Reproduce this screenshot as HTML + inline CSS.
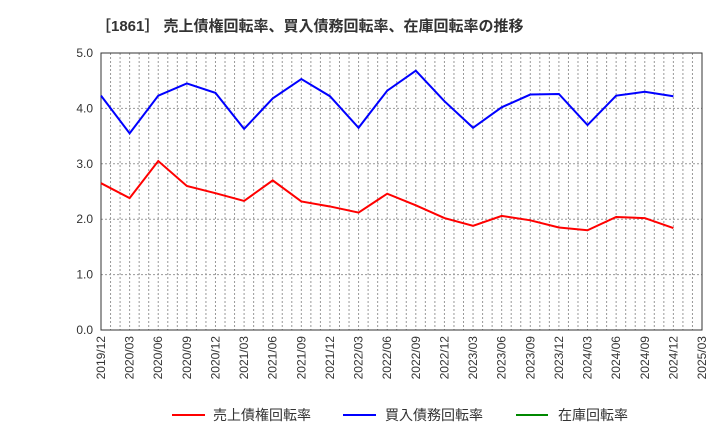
<!DOCTYPE html>
<html><head><meta charset="utf-8">
<style>
body{margin:0;background:#fff;font-family:"Liberation Sans","Noto Sans CJK JP",sans-serif;}
svg text{font-family:"Liberation Sans","Noto Sans CJK JP",sans-serif;}
</style></head><body>
<svg width="720" height="440">
<text x="96" y="31" font-size="15" font-weight="bold" fill="#333">［1861］ 売上債権回転率、買入債務回転率、在庫回転率の推移</text>
<g id="grid"></g>
<g id="axes"></g>
<g id="series"></g>
<g>
<g><line x1="172" y1="415" x2="205" y2="415" stroke="#f00" stroke-width="2"/><text x="213" y="420" font-size="14" fill="#333">売上債権回転率</text></g>
<g><line x1="343" y1="415" x2="376" y2="415" stroke="#00f" stroke-width="2"/><text x="385" y="420" font-size="14" fill="#333">買入債務回転率</text></g>
<g><line x1="516" y1="415" x2="548" y2="415" stroke="#080" stroke-width="2"/><text x="558" y="420" font-size="14" fill="#333">在庫回転率</text></g>
</g>
</svg>
<script>
const labels=["2019/12","2020/03","2020/06","2020/09","2020/12","2021/03","2021/06","2021/09","2021/12","2022/03","2022/06","2022/09","2022/12","2023/03","2023/06","2023/09","2023/12","2024/03","2024/06","2024/09","2024/12","2025/03"];
const payables=[4.23,3.55,4.23,4.45,4.28,3.63,4.18,4.53,4.22,3.65,4.32,4.68,4.13,3.65,4.02,4.25,4.26,3.70,4.23,4.30,4.22];
const receivables=[2.65,2.38,3.05,2.60,2.47,2.33,2.70,2.32,2.23,2.12,2.46,2.25,2.02,1.88,2.06,1.98,1.85,1.80,2.04,2.02,1.84];
const yTicks=[0,1,2,3,4,5];
const L=101,R=702,T=53,B=330,ymax=5;
const months=(labels.length-1)*3;
const xm=m=>L+(R-L)*m/months;
const xq=i=>xm(i*3);
const y=v=>B-(B-T)*v/ymax;
const NS="http://www.w3.org/2000/svg";
function mk(p,t,a){const e=document.createElementNS(NS,t);for(const k in a)e.setAttribute(k,a[k]);p.appendChild(e);return e;}
const grid=document.getElementById('grid'),axes=document.getElementById('axes'),series=document.getElementById('series');
for(let m=1;m<months;m++){const g=mk(grid,'line',{x1:xm(m),x2:xm(m),y1:T,y2:B,stroke:'#999','stroke-dasharray':'2,2','stroke-width':1});

}
yTicks.forEach(v=>{if(v>0&&v<ymax){const g=mk(grid,'line',{x1:L,x2:R,y1:y(v),y2:y(v),stroke:'#999','stroke-dasharray':'2,2'});

}
const t=mk(axes,'text',{x:L-8,y:y(v)+4,'text-anchor':'end','font-size':12,fill:'#333'});t.textContent=v.toFixed(1);

});
const fr=mk(axes,'rect',{x:L,y:T,width:R-L,height:B-T,fill:'none',stroke:'#333'});


labels.forEach((l,i)=>{const t=mk(axes,'text',{transform:`translate(${xq(i)+4},${B+6}) rotate(-90)`,'text-anchor':'end','font-size':12,fill:'#333'});t.textContent=l;

});
function line(d,c,n){const p=mk(series,'polyline',{points:d.map((v,i)=>xq(i)+','+y(v)).join(' '),fill:'none',stroke:c,'stroke-width':2});

}
line(receivables,'#f00','receivables-turnover-line');
line(payables,'#00f','payables-turnover-line');
</script>
</body></html>
